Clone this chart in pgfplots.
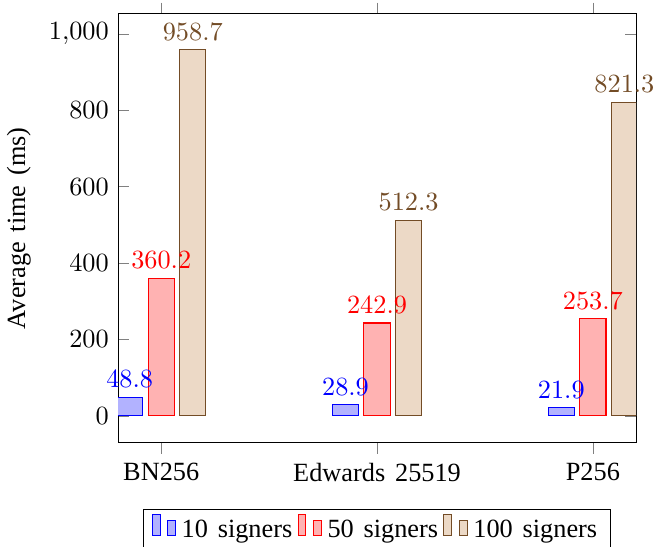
\documentclass[border=0pt]{standalone}
\usepackage{pgfplots}
\pgfplotsset{compat=1.18}
\usepackage{fontspec}
\setmainfont{Liberation Serif}[WordSpace=1.5]
\begin{document}
\begin{tikzpicture}
\begin{axis}[
  scale only axis,
  width=197pt, height=163pt,
  ybar=2pt,
  bar width=10pt,
  xmin=-0.2, xmax=2.2,
  ymin=-70, ymax=1052,
  xtick=data,
  xticklabels={BN256, Edwards 25519, P256},
  ylabel={Average time (ms)},
  nodes near coords,
  legend columns=3,
  legend style={at={(0.5,-0.154)}, anchor=north},
]
\addplot coordinates {(0,48.8) (1,28.9) (2,21.9)};
\addplot coordinates {(0,360.2) (1,242.9) (2,253.7)};
\addplot coordinates {(0,958.7) (1,512.3) (2,821.3)};
\legend{10 signers, 50 signers, 100 signers}
\end{axis}
\pgfresetboundingbox
\path ([xshift=-44.9pt, yshift=-39.5pt]current axis.south west) rectangle ([xshift=11.4pt, yshift=5.3pt]current axis.north east);
\end{tikzpicture}
\end{document}
